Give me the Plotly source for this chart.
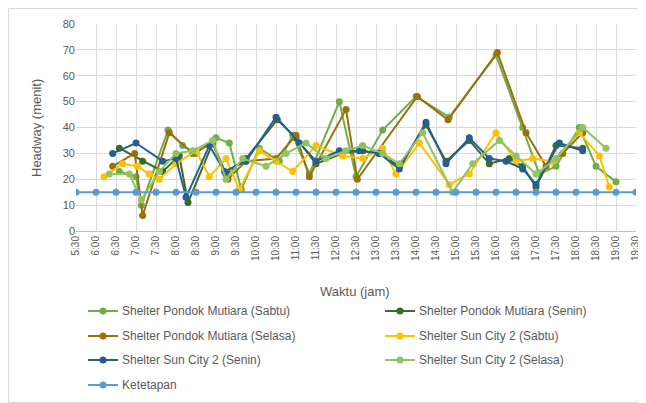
import plotly.graph_objects as go

# ---------------- data ----------------
tick_labels = ["5:30", "6:00", "6:30", "7:00", "7:30", "8:00", "8:30", "9:00", "9:30",
               "10:00", "10:30", "11:00", "11:30", "12:00", "12:30", "13:00", "13:30",
               "14:00", "14:30", "15:00", "15:30", "16:00", "16:30", "17:00", "17:30",
               "18:00", "18:30", "19:00", "19:30"]

pm_sabtu_t = ["6:35", "7:00", "7:08", "7:48", "8:10", "8:30", "9:00", "9:20", "9:38", "10:05",
              "10:35", "10:55", "11:20", "12:05", "12:30", "13:10", "14:00", "14:50", "16:00",
              "16:40", "17:05", "17:30", "18:05", "18:30", "19:00"]
pm_sabtu_v = [23, 21, 10, 39, 33, 30, 36, 34, 16, 32, 27, 37, 22, 50, 21, 39, 52, 44, 68,
              40, 22, 25, 40, 25, 19]

pm_senin_t = ["6:35", "7:10", "7:40", "8:05", "8:18", "8:55", "9:15", "9:45", "10:32", "11:00",
              "11:30", "12:10", "12:40", "13:05", "13:35", "14:15", "14:45", "15:20", "15:50",
              "16:20", "16:40", "17:00", "17:30", "18:10"]
pm_senin_v = [32, 27, 23, 29, 11, 34, 22, 28, 43, 36, 26, 30, 31, 30, 25, 41, 27, 35, 26,
              28, 25, 17, 33, 32]

pm_selasa_t = ["6:25", "6:58", "7:10", "7:50", "8:25", "8:55", "9:18", "9:45", "10:30", "11:00",
               "11:20", "12:15", "12:32", "14:02", "14:48", "16:02", "16:45", "17:15", "17:40",
               "18:10"]
pm_selasa_v = [25, 30, 6, 38, 30, 34, 20, 27, 28, 37, 21, 47, 20, 52, 43, 69, 38, 25, 30, 38]

sc_sabtu_t = ["6:12", "6:40", "7:02", "7:20", "7:35", "8:00", "8:30", "8:50", "9:15", "9:35",
              "10:05", "10:30", "10:55", "11:30", "12:10", "12:40", "13:10", "13:30", "14:05",
              "14:50", "15:20", "16:00", "16:30", "16:55", "17:25", "18:05", "18:35", "18:50"]
sc_sabtu_v = [21, 26, 25, 22, 20, 26, 31, 21, 28, 16, 31, 27, 23, 33, 29, 28, 32, 22, 34,
              18, 22, 38, 27, 28, 27, 38, 29, 17]

sc_senin_t = ["6:25", "7:00", "7:40", "8:00", "8:15", "8:50", "9:13", "9:45", "10:30", "11:05",
              "11:30", "12:05", "12:35", "13:05", "13:35", "14:15", "14:45", "15:20", "15:50",
              "16:15", "16:40", "17:00", "17:35", "18:10"]
sc_senin_v = [30, 34, 27, 28, 13, 33, 23, 27, 44, 34, 27, 31, 31, 30, 24, 42, 26, 36, 28,
              27, 24, 18, 34, 31]

sc_selasa_t = ["6:20", "6:50", "7:08", "7:35", "8:00", "8:25", "8:55", "9:15", "9:40", "10:15",
               "10:45", "11:15", "11:45", "12:15", "12:40", "13:10", "13:35", "14:10", "14:55",
               "15:25", "16:05", "16:30", "17:00", "17:30", "18:10", "18:45"]
sc_selasa_v = [22, 22, 12, 23, 30, 31, 35, 20, 28, 25, 30, 34, 28, 31, 33, 30, 26, 38, 15,
               26, 35, 29, 22, 28, 40, 32]

ketetapan_t = tick_labels
ketetapan_v = [15, 15, 15, 15, 15, 15, 15, 15, 15, 15, 15, 15, 15, 15, 15, 15, 15, 15, 15,
               15, 15, 15, 15, 15, 15, 15, 15, 15, 15]


def hours(labels):
    out = []
    for s in labels:
        h, m = s.split(":")
        out.append(int(h) + int(m) / 60.0)
    return out


series = [
    ("Shelter Pondok Mutiara (Sabtu)", pm_sabtu_t, pm_sabtu_v, "#70AD47"),
    ("Shelter Pondok Mutiara (Senin)", pm_senin_t, pm_senin_v, "#3B6B24"),
    ("Shelter Pondok Mutiara (Selasa)", pm_selasa_t, pm_selasa_v, "#9C6E0C"),
    ("Shelter Sun City 2 (Sabtu)", sc_sabtu_t, sc_sabtu_v, "#FFC000"),
    ("Shelter Sun City 2 (Senin)", sc_senin_t, sc_senin_v, "#255E91"),
    ("Shelter Sun City 2 (Selasa)", sc_selasa_t, sc_selasa_v, "#8FC463"),
    ("Ketetapan", ketetapan_t, ketetapan_v, "#5B9BD5"),
]

FONT = "Liberation Sans, Arial, sans-serif"
GREY = "#595959"

fig = go.Figure()
for name, t, v, col in series:
    fig.add_trace(go.Scatter(
        x=hours(t), y=v, name=name, mode="lines+markers",
        line=dict(color=col, width=2),
        marker=dict(color=col, size=7),
        showlegend=False,
    ))

# The page puts the figure 8 px in from the top-left corner (default body margin).
OFF = 8
W, H = 646 - OFF, 403 - OFF
PLOT_L, PLOT_R, PLOT_T, PLOT_B = 76, 636, 24, 231  # target page pixels
L, T = PLOT_L - OFF, PLOT_T - OFF
R = W - (PLOT_R - OFF)
B = H - (PLOT_B - OFF)
pw, ph = W - L - R, H - T - B


def px2paper_x(px):
    return (px - PLOT_L) / pw


def px2paper_y(py):
    return (PLOT_B - py) / ph


annotations = [
    dict(text="Waktu (jam)", xref="paper", yref="paper",
         x=px2paper_x(355), y=px2paper_y(291), xanchor="center", yanchor="middle",
         showarrow=False, font=dict(size=13, color=GREY)),
    dict(text="Headway (menit)", xref="paper", yref="paper",
         x=px2paper_x(36), y=px2paper_y(128), xanchor="center", yanchor="middle",
         textangle=-90, showarrow=False, font=dict(size=13, color=GREY)),
]
shapes = [
    dict(type="rect", xref="paper", yref="paper",
         x0=px2paper_x(OFF + 0.5), x1=px2paper_x(645.5), y0=px2paper_y(402.5), y1=px2paper_y(OFF + 0.5),
         line=dict(color="#D9D9D9", width=1), fillcolor="rgba(0,0,0,0)", layer="below"),
]

# manual two-column legend
col_x = [88, 385]
row_y = [311, 336, 360, 385]
for i, (name, t, v, col) in enumerate(series):
    cx = col_x[i % 2]
    ry = row_y[i // 2]
    shapes.append(dict(type="line", xref="paper", yref="paper",
                       x0=px2paper_x(cx), x1=px2paper_x(cx + 30),
                       y0=px2paper_y(ry), y1=px2paper_y(ry),
                       line=dict(color=col, width=2)))
    shapes.append(dict(type="circle", xref="paper", yref="paper",
                       x0=px2paper_x(cx + 11.5), x1=px2paper_x(cx + 18.5),
                       y0=px2paper_y(ry + 3.5), y1=px2paper_y(ry - 3.5),
                       line=dict(color=col, width=0), fillcolor=col))
    annotations.append(dict(text=name, xref="paper", yref="paper",
                            x=px2paper_x(cx + 32), y=px2paper_y(ry),
                            xanchor="left", yanchor="middle", showarrow=False,
                            font=dict(size=12, color=GREY)))

fig.update_layout(
    width=W, height=H,
    margin=dict(l=L, r=R, t=T, b=B, pad=0),
    paper_bgcolor="white", plot_bgcolor="white",
    font=dict(family=FONT, size=11, color=GREY),
    showlegend=False,
    xaxis=dict(
        range=[5.5, 19.5], automargin=False,
        tickvals=hours(tick_labels), ticktext=tick_labels,
        tickangle=-90, tickfont=dict(size=10, color=GREY),
        showgrid=True, gridcolor="#D9D9D9", gridwidth=1,
        showline=True, linecolor="#BFBFBF", linewidth=1,
        zeroline=False, ticks="",
    ),
    yaxis=dict(
        range=[0, 80], dtick=10, automargin=False,
        tickfont=dict(size=11, color=GREY),
        showgrid=True, gridcolor="#D9D9D9", gridwidth=1,
        zeroline=False, showline=False, ticks="",
    ),
    annotations=annotations,
    shapes=shapes,
)

fig.write_html("out.html")
